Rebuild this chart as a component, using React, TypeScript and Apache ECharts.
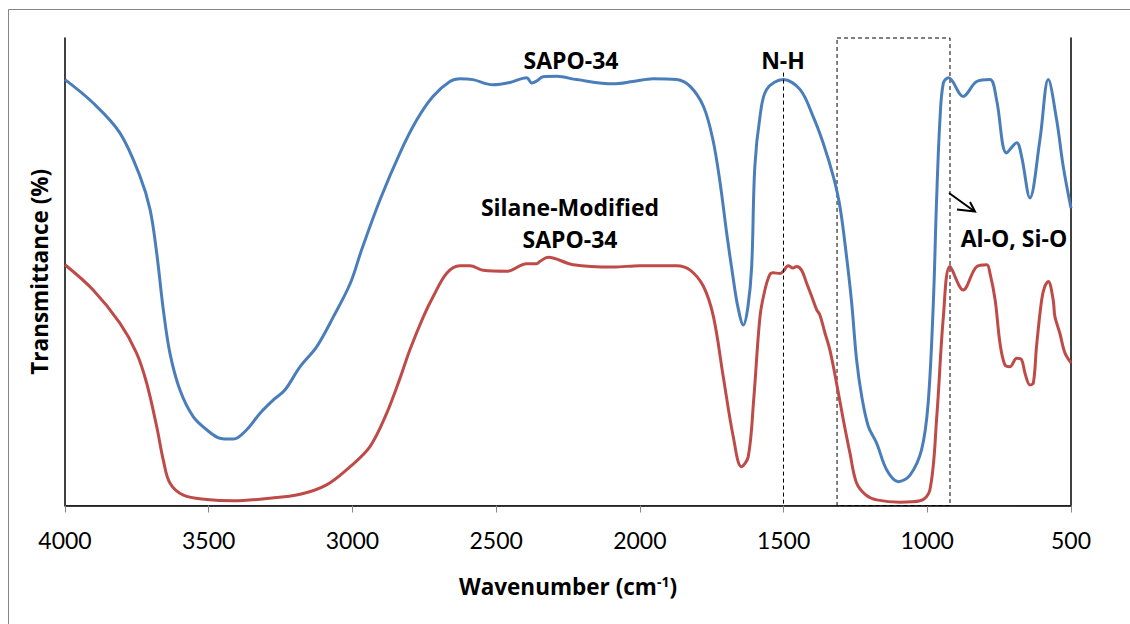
import React, { useEffect, useRef } from "react";
import * as echarts from "echarts";

// SAPO-34 (blue) spectrum
const sapoWavenumber = [
  4000, 3902, 3809, 3739, 3704, 3681, 3658, 3635, 3600, 3554, 3507, 3461, 3414, 3368, 3322, 3275,
  3235, 3182, 3124, 3066, 3007, 2968, 2904, 2834, 2776, 2720, 2661, 2626, 2581, 2511, 2452, 2394,
  2376, 2359, 2337, 2289, 2220, 2093, 2024, 1954, 1872, 1826, 1779, 1746, 1721, 1698, 1676, 1659,
  1640, 1624, 1611, 1600, 1582, 1559, 1501, 1443, 1397, 1362, 1327, 1304, 1281, 1263, 1246, 1228,
  1205, 1176, 1141, 1101, 1060, 1020, 997, 979, 968, 956, 944, 926, 875, 828, 782, 759, 724, 689,
  672, 643, 608, 579, 550, 527, 500,
];
const sapoTransmittance = [
  91.1, 86.1, 79.7, 70.4, 63.3, 54.0, 41.9, 32.6, 24.7, 19.0, 16.2, 14.4, 14.2, 16.2, 19.7, 22.6,
  24.7, 29.7, 34.0, 40.4, 47.6, 54.7, 65.4, 75.5, 82.5, 87.5, 90.7, 91.3, 91.1, 90.0, 90.5, 91.5,
  90.4, 90.8, 91.7, 91.8, 91.1, 90.2, 90.7, 91.3, 91.1, 89.7, 85.4, 78.3, 69.1, 58.3, 48.9, 42.5,
  38.6, 42.5, 51.1, 72.5, 83.2, 89.0, 91.1, 89.0, 83.2, 77.5, 70.4, 64.0, 53.3, 43.3, 31.2, 23.3,
  16.9, 13.3, 7.6, 5.1, 6.5, 11.9, 21.9, 43.3, 64.7, 82.5, 90.4, 91.5, 87.5, 90.7, 91.1, 86.8, 75.4, 77.6,
  74.7, 65.8, 78.3, 91.1, 82.5, 72.5, 63.6,
];

// Silane-Modified SAPO-34 (red) spectrum
const silaneWavenumber = [
  4000, 3902, 3809, 3751, 3716, 3681, 3658, 3635, 3588, 3507, 3414, 3298, 3182, 3090, 3008, 2939,
  2881, 2834, 2800, 2753, 2719, 2672, 2626, 2591, 2545, 2463, 2394, 2359, 2348, 2319, 2232, 2092,
  2000, 1872, 1826, 1779, 1744, 1710, 1675, 1647, 1623, 1604, 1582, 1565, 1548, 1536, 1513, 1501,
  1484, 1467, 1455, 1437, 1420, 1402, 1385, 1374, 1356, 1339, 1321, 1292, 1269, 1246, 1213, 1176,
  1095, 1025, 991, 967, 944, 921, 875, 828, 793, 782, 764, 747, 730, 712, 689, 672, 660, 643, 631,
  620, 602, 591, 579, 562, 556, 539, 521, 500,
];
const silaneTransmittance = [
  51.5, 46.1, 39.0, 32.6, 26.2, 16.9, 9.7, 4.8, 2.2, 1.3, 1.0, 1.5, 2.4, 4.4, 8.3, 12.6,
  19.7, 27.3, 33.3, 40.4, 44.7, 49.7, 51.3, 51.3, 50.3, 50.1, 51.7, 51.7, 52.2, 53.1, 51.5, 51.0,
  51.3, 51.3, 50.4, 46.9, 40.4, 27.6, 14.7, 8.3, 10.4, 22.6, 40.4, 46.1, 49.4, 49.8, 49.6, 50.1,
  51.3, 50.8, 51.1, 50.3, 47.6, 44.7, 41.9, 40.8, 36.9, 33.3, 27.9, 18.3, 11.2, 4.8, 2.2, 1.2,
  0.7, 1.0, 3.3, 19.0, 40.4, 51.1, 46.1, 51.1, 51.5, 49.7, 44.0, 34.7, 30.1, 29.7, 31.5, 31.2, 28.3,
  25.8, 26.2, 34.0, 44.0, 46.9, 47.9, 44.0, 40.4, 36.9, 32.6, 30.5,
];

const xTickValues = [4000, 3500, 3000, 2500, 2000, 1500, 1000, 500];
const nhLineWavenumber = 1500;
const nhLineTop = 92.6;
const boxRange = [1314, 921];

const pair = (xs: number[], ys: number[]) => xs.map((x, i) => [x, ys[i]]);

const TICK_FONT = "Lato, 'Open Sans', sans-serif";
const BOLD_FONT = "'Open Sans', Lato, sans-serif";

export default function App() {
  const ref = useRef<HTMLDivElement>(null);
  useEffect(() => {
    const chart = echarts.init(ref.current!, null, { renderer: "svg" });
    const grid = { left: 65, top: 38, width: 1006, height: 467.5 };
    const boldText = (text: string, x: number, y: number) => ({
      type: "text",
      x,
      y,
      style: {
        text,
        fill: "#000",
        fontFamily: BOLD_FONT,
        fontWeight: "bold",
        fontSize: 23,
        align: "center",
        verticalAlign: "middle",
      },
    });
    chart.setOption({
      animation: false,
      backgroundColor: "#fff",
      grid: { ...grid, show: false },
      xAxis: [
        {
          type: "value",
          min: 500,
          max: 4000,
          interval: 500,
          inverse: true,
          position: "bottom",
          axisLine: { show: true, lineStyle: { color: "#868686", width: 1 } },
          axisTick: { show: true, length: 7, lineStyle: { color: "#868686" } },
          axisLabel: {
            color: "#000",
            fontFamily: TICK_FONT,
            fontSize: 23,
            margin: 23,
            formatter: (v: number) => (xTickValues.includes(v) ? String(v) : ""),
          },
          splitLine: { show: false },
          name: "{a|Wavenumber (cm}{b|-1}{a|)}",
          nameLocation: "middle",
          nameGap: 69,
          nameTextStyle: {
            rich: {
              a: { fontFamily: BOLD_FONT, fontWeight: "bold", fontSize: 22.5, color: "#000" },
              b: {
                fontFamily: BOLD_FONT,
                fontWeight: "bold",
                fontSize: 14,
                color: "#000",
                verticalAlign: "top",
              },
            },
          },
        },
        {
          type: "value",
          min: 500,
          max: 4000,
          inverse: true,
          position: "top",
          axisLine: { show: true, lineStyle: { color: "#000", width: 1.5 } },
          axisTick: { show: false },
          axisLabel: { show: false },
          splitLine: { show: false },
        },
      ],
      yAxis: [
        {
          type: "value",
          min: 0,
          max: 100,
          position: "left",
          axisLine: { show: true, lineStyle: { color: "#000", width: 1.5 } },
          axisTick: { show: false },
          axisLabel: { show: false },
          splitLine: { show: false },
          name: "Transmittance (%)",
          nameLocation: "middle",
          nameGap: 14,
          nameTextStyle: {
            fontFamily: BOLD_FONT,
            fontWeight: "bold",
            fontSize: 22.5,
            color: "#000",
          },
        },
        {
          type: "value",
          min: 0,
          max: 100,
          position: "right",
          axisLine: { show: true, lineStyle: { color: "#000", width: 1.5 } },
          axisTick: { show: false },
          axisLabel: { show: false },
          splitLine: { show: false },
        },
      ],
      series: [
        {
          name: "SAPO-34",
          type: "line",
          data: pair(sapoWavenumber, sapoTransmittance),
          showSymbol: false,
          smooth: 0.35,
          lineStyle: { color: "#4a7ebb", width: 3 },
          itemStyle: { color: "#4a7ebb" },
          z: 3,
        },
        {
          name: "Silane-Modified SAPO-34",
          type: "line",
          data: pair(silaneWavenumber, silaneTransmittance),
          showSymbol: false,
          smooth: 0.35,
          lineStyle: { color: "#be4b48", width: 3 },
          itemStyle: { color: "#be4b48" },
          z: 3,
          markLine: {
            silent: true,
            symbol: "none",
            label: { show: false },
            lineStyle: { color: "#000", type: [4, 3], width: 1 },
            data: [
              [
                { coord: [nhLineWavenumber, nhLineTop] },
                { coord: [nhLineWavenumber, 0] },
              ],
            ],
          },
          markArea: {
            silent: true,
            label: { show: false },
            itemStyle: {
              color: "rgba(0,0,0,0)",
              borderColor: "#000",
              borderWidth: 1,
              borderType: [4, 3],
            },
            data: [[{ xAxis: boxRange[0], yAxis: 100 }, { xAxis: boxRange[1], yAxis: 0 }]],
          },
        },
      ],
      graphic: [
        {
          type: "rect",
          shape: { x: 8.5, y: 9.5, width: 1200, height: 700 },
          style: { fill: "none", stroke: "#858585", lineWidth: 1 },
          silent: true,
        },
        boldText("SAPO-34", 571, 60),
        boldText("N-H", 783, 60),
        boldText("Silane-Modified", 570, 207),
        boldText("SAPO-34", 570, 239),
        boldText("Al-O, Si-O", 1014, 238),
        {
          type: "polyline",
          shape: { points: [[949, 193], [974, 211]] },
          style: { stroke: "#000", lineWidth: 2, fill: "none" },
        },
        {
          type: "polyline",
          shape: { points: [[957, 209.5], [975, 211.5], [970, 202]] },
          style: { stroke: "#000", lineWidth: 2, fill: "none" },
        },
      ],
    });
    return () => chart.dispose();
  }, []);
  return (
    <div
      ref={ref}
      style={{ position: "fixed", left: 0, top: 0, width: 1130, height: 624, background: "#fff" }}
    />
  );
}
